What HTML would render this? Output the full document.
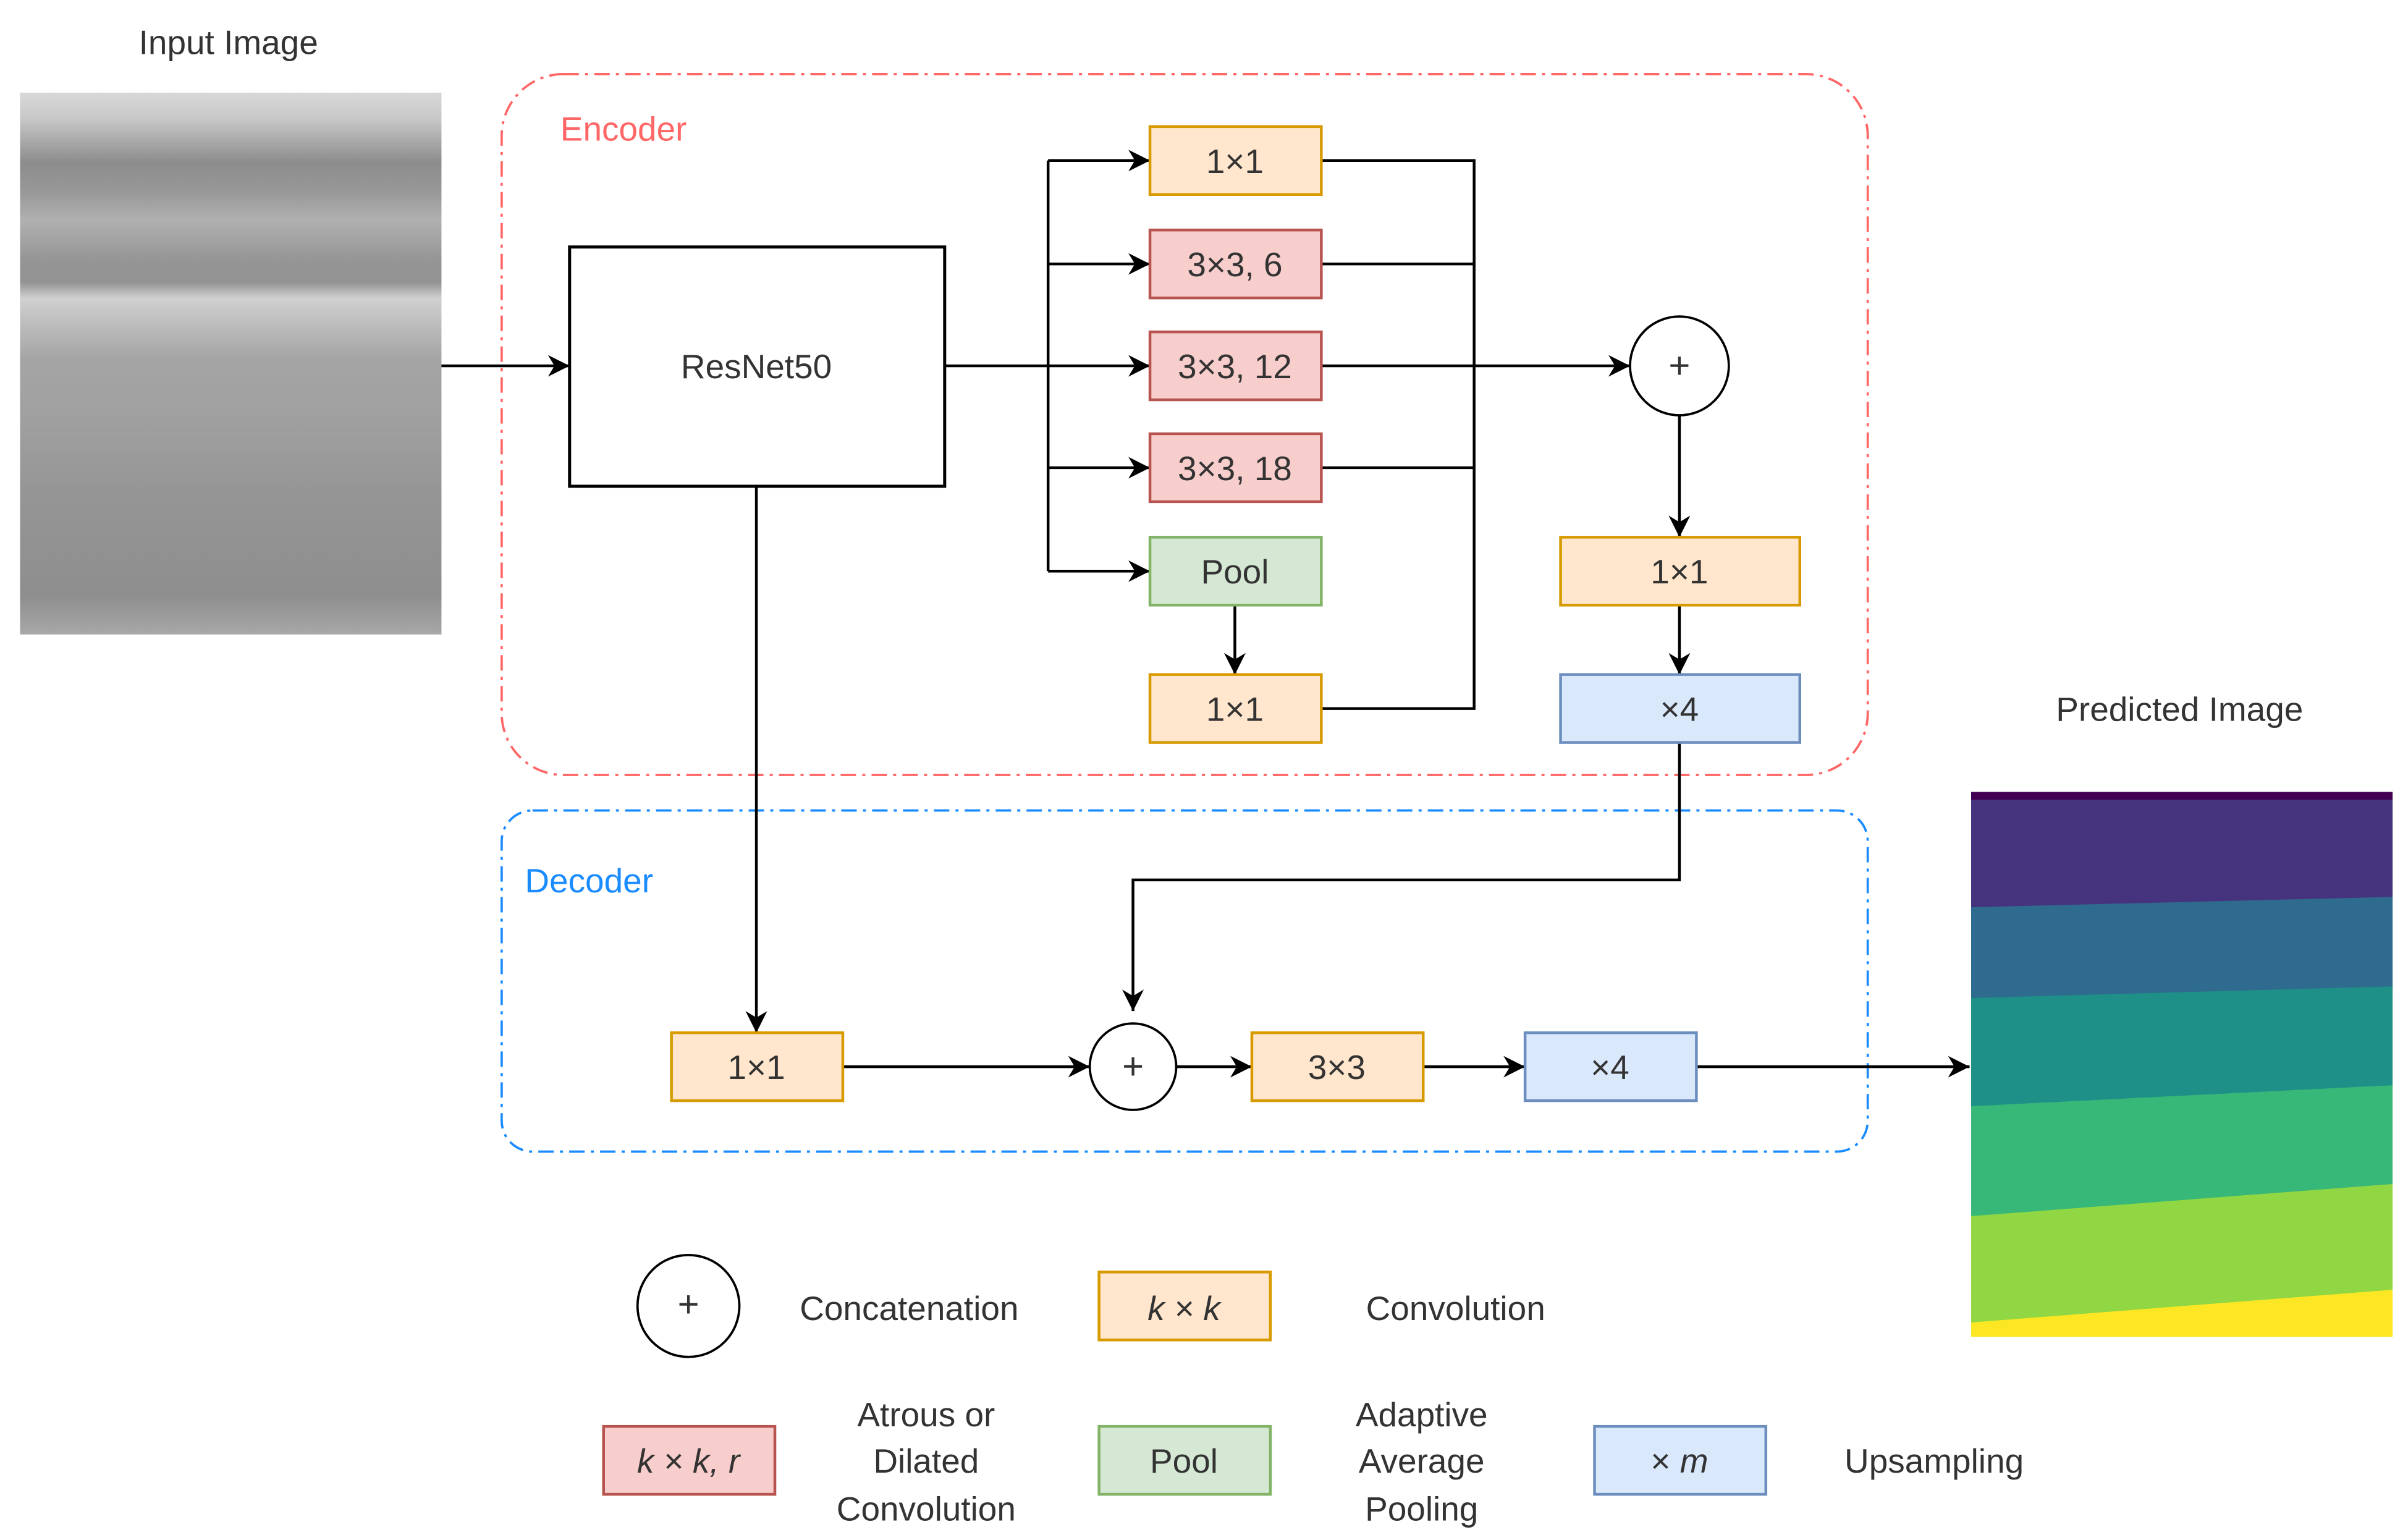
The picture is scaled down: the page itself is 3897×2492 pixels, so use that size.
<!DOCTYPE html>
<html><head><meta charset="utf-8"><style>
html,body{margin:0;padding:0;background:#fff;}
svg{display:block;}
text{font-family:"Liberation Sans",sans-serif;fill:#333;}
</style></head><body>
<svg width="3897" height="2492" viewBox="0 0 1560 997.6" preserveAspectRatio="none" xmlns="http://www.w3.org/2000/svg">
<defs>
<marker id="a" viewBox="0 0 10 10" refX="10" refY="5" markerWidth="7" markerHeight="7" markerUnits="userSpaceOnUse" orient="auto">
<path d="M0,0 L10,5 L0,10 L3,5 Z" fill="#000"/></marker>
<marker id="b" viewBox="0 0 10 10" refX="10" refY="5" markerWidth="14" markerHeight="14" markerUnits="userSpaceOnUse" orient="auto">
<path d="M0,0 L10,5 L0,10 L3,5 Z" fill="#000"/></marker>
<linearGradient id="g" x1="0" y1="0" x2="0" y2="1">
<stop offset="0" stop-color="#d8d8d8"/><stop offset="0.047" stop-color="#c8c8c8"/>
<stop offset="0.13" stop-color="#8c8c8c"/><stop offset="0.185" stop-color="#999"/>
<stop offset="0.236" stop-color="#b0b0b0"/><stop offset="0.31" stop-color="#959595"/>
<stop offset="0.35" stop-color="#939393"/><stop offset="0.38" stop-color="#d0d0d0"/>
<stop offset="0.42" stop-color="#c0c0c0"/><stop offset="0.49" stop-color="#a5a5a5"/>
<stop offset="0.6" stop-color="#a0a0a0"/><stop offset="0.745" stop-color="#959595"/>
<stop offset="0.93" stop-color="#8e8e8e"/><stop offset="1" stop-color="#a8a8a8"/>
</linearGradient>
</defs>

<text x="148" y="35" font-size="22" text-anchor="middle">Input Image</text>
<rect x="13" y="60" width="273" height="351" fill="url(#g)"/>

<text x="1412" y="467" font-size="22" text-anchor="middle">Predicted Image</text>
<g>
<rect x="1277" y="513" width="273" height="353" fill="#fde725"/>
<polygon points="1277,513 1550,513 1550,835.5 1277,856.7" fill="#90d743"/>
<polygon points="1277,513 1550,513 1550,767 1277,787.8" fill="#37b878"/>
<polygon points="1277,513 1550,513 1550,703 1277,716.6" fill="#1f9088"/>
<polygon points="1277,513 1550,513 1550,639 1277,646.5" fill="#2f6b8e"/>
<polygon points="1277,513 1550,513 1550,581 1277,587.7" fill="#46337e"/>
<rect x="1277" y="513" width="273" height="5" fill="#440154"/>
</g>

<rect x="325" y="48" width="885" height="454" rx="40" fill="none" stroke="#ff6666" stroke-width="1.5" stroke-dasharray="10,4,2,4"/>
<text x="363" y="91" font-size="22" fill="#ff6666" style="fill:#ff6666">Encoder</text>
<rect x="325" y="525" width="885" height="221" rx="20" fill="none" stroke="#1a8cff" stroke-width="1.5" stroke-dasharray="10,4,2,4"/>
<text x="340" y="578" font-size="22" style="fill:#1a8cff">Decoder</text>

<g stroke="#000" stroke-width="1.8" fill="none">
<line x1="286" y1="237" x2="369" y2="237" marker-end="url(#b)"/>
<line x1="612" y1="237" x2="745" y2="237" marker-end="url(#b)"/>
<polyline points="679,104 679,370"/>
<line x1="679" y1="104" x2="745" y2="104" marker-end="url(#b)"/>
<line x1="679" y1="171" x2="745" y2="171" marker-end="url(#b)"/>
<line x1="679" y1="303" x2="745" y2="303" marker-end="url(#b)"/>
<line x1="679" y1="370" x2="745" y2="370" marker-end="url(#b)"/>
<polyline points="856,104 955,104 955,459 856,459"/>
<line x1="856" y1="171" x2="955" y2="171"/>
<line x1="856" y1="303" x2="955" y2="303"/>
<line x1="856" y1="237" x2="1056" y2="237" marker-end="url(#b)"/>
<line x1="800" y1="392" x2="800" y2="437" marker-end="url(#b)"/>
<line x1="1088" y1="269" x2="1088" y2="348" marker-end="url(#b)"/>
<line x1="1088" y1="392" x2="1088" y2="437" marker-end="url(#b)"/>
<polyline points="1088,481 1088,570 734,570 734,655" marker-end="url(#b)"/>
<line x1="490" y1="315" x2="490" y2="669" marker-end="url(#b)"/>
<line x1="546" y1="691" x2="706" y2="691" marker-end="url(#b)"/>
<line x1="762" y1="691" x2="811" y2="691" marker-end="url(#b)"/>
<line x1="922" y1="691" x2="988" y2="691" marker-end="url(#b)"/>
<line x1="1099" y1="691" x2="1276" y2="691" marker-end="url(#b)"/>
</g>

<rect x="369" y="160" width="243" height="155" fill="#fff" stroke="#000" stroke-width="2"/>
<text x="490" y="245" font-size="22" text-anchor="middle">ResNet50</text>

<g stroke-width="1.8" font-size="22">
<rect x="745" y="82" width="111" height="44" fill="#ffe6cc" stroke="#d79b00"/>
<rect x="745" y="149" width="111" height="44" fill="#f8cecc" stroke="#b85450"/>
<rect x="745" y="215" width="111" height="44" fill="#f8cecc" stroke="#b85450"/>
<rect x="745" y="281" width="111" height="44" fill="#f8cecc" stroke="#b85450"/>
<rect x="745" y="348" width="111" height="44" fill="#d5e8d4" stroke="#82b366"/>
<rect x="745" y="437" width="111" height="44" fill="#ffe6cc" stroke="#d79b00"/>
<rect x="1011" y="348" width="155" height="44" fill="#ffe6cc" stroke="#d79b00"/>
<rect x="1011" y="437" width="155" height="44" fill="#dae8fc" stroke="#6c8ebf"/>
<rect x="435" y="669" width="111" height="44" fill="#ffe6cc" stroke="#d79b00"/>
<rect x="811" y="669" width="111" height="44" fill="#ffe6cc" stroke="#d79b00"/>
<rect x="988" y="669" width="111" height="44" fill="#dae8fc" stroke="#6c8ebf"/>
</g>
<g font-size="22" text-anchor="middle">
<text x="800" y="112">1×1</text>
<text x="800" y="179">3×3, 6</text>
<text x="800" y="245">3×3, 12</text>
<text x="800" y="311">3×3, 18</text>
<text x="800" y="378">Pool</text>
<text x="800" y="467">1×1</text>
<text x="1088" y="378">1×1</text>
<text x="1088" y="467">×4</text>
<text x="490" y="699">1×1</text>
<text x="866" y="699">3×3</text>
<text x="1043" y="699">×4</text>
</g>

<g fill="#fff" stroke="#000" stroke-width="1.5">
<circle cx="1088" cy="237" r="32"/>
<circle cx="734" cy="691" r="28"/>
<circle cx="446" cy="846" r="33"/>
</g>
<g font-size="24" text-anchor="middle">
<text x="1088" y="245">+</text>
<text x="734" y="699">+</text>
<text x="446" y="853">+</text>
</g>

<g stroke-width="1.8">
<rect x="712" y="824" width="111" height="44" fill="#ffe6cc" stroke="#d79b00"/>
<rect x="391" y="924" width="111" height="44" fill="#f8cecc" stroke="#b85450"/>
<rect x="712" y="924" width="111" height="44" fill="#d5e8d4" stroke="#82b366"/>
<rect x="1033" y="924" width="111" height="44" fill="#dae8fc" stroke="#6c8ebf"/>
</g>
<g font-size="22" text-anchor="middle">
<text x="589" y="855">Concatenation</text>
<text x="767" y="855" font-style="italic">k × k</text>
<text x="943" y="855">Convolution</text>
<text x="446" y="954" font-style="italic">k × k, r</text>
<text x="600" y="924">Atrous or</text>
<text x="600" y="954">Dilated</text>
<text x="600" y="985">Convolution</text>
<text x="767" y="954">Pool</text>
<text x="921" y="924">Adaptive</text>
<text x="921" y="954">Average</text>
<text x="921" y="985">Pooling</text>
<text x="1088" y="954">× <tspan font-style="italic">m</tspan></text>
<text x="1253" y="954">Upsampling</text>
</g>
</svg>
</body></html>
